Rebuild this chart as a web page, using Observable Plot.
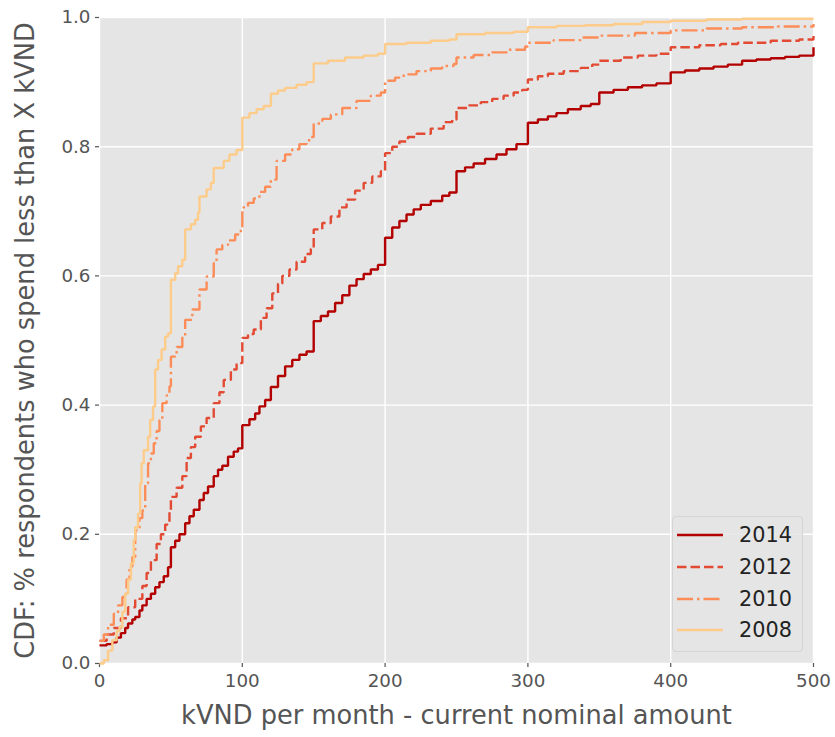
<!DOCTYPE html>
<html>
<head>
<meta charset="utf-8">
<script src="https://cdn.jsdelivr.net/npm/d3@7"></script>
<script src="https://cdn.jsdelivr.net/npm/@observablehq/plot@0.6"></script>
<style>
  html, body { margin: 0; padding: 0; background: #fff; }
  #wrap { position: relative; width: 835px; height: 737px; font-family: "DejaVu Sans", sans-serif; }
  #legend { position: absolute; left: 672px; top: 516px; width: 131px; height: 136px;
    background: rgba(229,229,229,0.85); border: 1px solid #d4d4d4; border-radius: 4px; box-sizing: border-box; }
  .item { position: absolute; left: 4px; height: 20px; display: flex; align-items: center; }
  .item span { margin-left: 16px; font-size: 20.8px; color: #222; }
</style>
</head>
<body>
<div id="wrap"></div>
<script>
// ---- data ----
const years = ["2014", "2012", "2010", "2008"];
const colors = ["#b30000", "#e34a33", "#fc8d59", "#fdcc8a"];
const dashes = ["none", "9.5,4", "16,4,2.5,4", "none"];
const xTicks = [0, 100, 200, 300, 400, 500];
const yTicks = [0, 0.2, 0.4, 0.6, 0.8, 1.0];
const xLabel = "kVND per month - current nominal amount";
const yLabel = "CDF: % respondents who spend less than X kVND";

const cdf2014 = [[0,0.028],[5,0.03],[9,0.033],[12,0.04],[15,0.047],[18,0.055],[20,0.062],[23,0.068],[25,0.072],[28,0.082],[30,0.09],[33,0.1],[36,0.108],[39,0.118],[42,0.126],[45,0.135],[48,0.149],[50,0.18],[53,0.19],[56,0.2],[60,0.217],[63,0.228],[66,0.238],[70,0.253],[73,0.264],[76,0.274],[80,0.29],[83,0.3],[86,0.306],[90,0.32],[94,0.328],[97,0.333],[100,0.369],[105,0.378],[109,0.387],[112,0.398],[116,0.408],[120,0.428],[125,0.445],[130,0.46],[135,0.47],[140,0.478],[145,0.483],[150,0.53],[155,0.538],[160,0.545],[165,0.558],[170,0.57],[175,0.585],[180,0.595],[185,0.603],[190,0.61],[195,0.617],[200,0.659],[205,0.675],[210,0.685],[215,0.695],[220,0.703],[225,0.71],[232,0.716],[240,0.724],[245,0.729],[250,0.762],[256,0.768],[262,0.774],[270,0.781],[278,0.788],[285,0.796],[292,0.804],[300,0.837],[307,0.842],[314,0.847],[320,0.852],[328,0.858],[337,0.863],[344,0.866],[350,0.884],[360,0.888],[370,0.892],[380,0.895],[390,0.898],[400,0.915],[410,0.918],[420,0.921],[430,0.924],[440,0.927],[450,0.933],[460,0.935],[470,0.937],[480,0.939],[490,0.941],[500,0.954]];

const cdf2012 = [[0,0.035],[5,0.045],[10,0.055],[15,0.07],[20,0.087],[25,0.1],[30,0.12],[33,0.14],[36,0.16],[40,0.185],[43,0.2],[46,0.215],[49,0.237],[50,0.258],[54,0.272],[58,0.29],[61,0.318],[64,0.335],[67,0.351],[71,0.367],[75,0.38],[80,0.403],[84,0.42],[87,0.439],[92,0.455],[96,0.465],[100,0.504],[104,0.51],[108,0.517],[113,0.535],[117,0.55],[121,0.573],[125,0.588],[128,0.6],[133,0.61],[138,0.622],[144,0.634],[148,0.642],[150,0.672],[156,0.682],[162,0.692],[168,0.706],[173,0.718],[179,0.732],[185,0.744],[191,0.754],[197,0.762],[200,0.79],[205,0.8],[210,0.808],[216,0.815],[222,0.82],[232,0.828],[241,0.838],[247,0.842],[250,0.86],[258,0.864],[267,0.869],[275,0.874],[283,0.879],[290,0.884],[296,0.888],[300,0.904],[307,0.909],[314,0.913],[325,0.917],[337,0.922],[345,0.927],[350,0.933],[365,0.938],[377,0.941],[390,0.944],[400,0.954],[420,0.957],[435,0.959],[447,0.961],[470,0.964],[490,0.966],[500,0.977]];

const cdf2010 = [[0,0.035],[3,0.045],[6,0.06],[10,0.077],[13,0.09],[16,0.103],[19,0.13],[21,0.15],[23,0.165],[25,0.206],[28,0.225],[30,0.237],[32,0.279],[34,0.31],[36,0.325],[38,0.341],[40,0.36],[42,0.377],[44,0.403],[47,0.415],[49,0.429],[50,0.475],[54,0.49],[58,0.506],[60,0.532],[65,0.548],[70,0.579],[75,0.599],[80,0.62],[82,0.641],[86,0.648],[90,0.655],[95,0.664],[99,0.672],[100,0.706],[104,0.713],[108,0.72],[112,0.73],[116,0.738],[120,0.749],[124,0.778],[130,0.788],[135,0.796],[140,0.804],[145,0.81],[148,0.815],[150,0.836],[156,0.843],[162,0.85],[170,0.86],[180,0.871],[190,0.879],[197,0.884],[200,0.902],[207,0.907],[213,0.912],[222,0.917],[232,0.921],[240,0.925],[248,0.928],[250,0.938],[262,0.942],[274,0.946],[286,0.95],[298,0.955],[300,0.961],[318,0.965],[337,0.969],[350,0.972],[375,0.976],[400,0.98],[425,0.983],[450,0.985],[475,0.986],[500,0.99]];

const cdf2008 = [[0,0],[3,0.005],[6,0.02],[9,0.036],[12,0.05],[14,0.056],[16,0.08],[18,0.108],[20,0.13],[22,0.155],[24,0.191],[25,0.211],[27,0.232],[28.5,0.279],[29.5,0.31],[31,0.33],[34,0.351],[35.5,0.377],[37.5,0.398],[39,0.455],[41,0.47],[43.5,0.486],[46,0.506],[48,0.511],[50,0.594],[53,0.604],[55,0.615],[58,0.625],[60,0.672],[64,0.68],[67,0.687],[69,0.698],[70,0.723],[75,0.734],[78,0.744],[80,0.767],[87,0.778],[91,0.788],[96,0.795],[100,0.845],[105,0.852],[110,0.858],[115,0.863],[120,0.882],[125,0.887],[130,0.891],[138,0.896],[145,0.9],[150,0.929],[160,0.933],[172,0.938],[185,0.941],[195,0.944],[200,0.959],[215,0.961],[232,0.964],[245,0.966],[250,0.974],[270,0.976],[290,0.978],[300,0.985],[320,0.987],[340,0.988],[360,0.99],[380,0.993],[400,0.995],[425,0.997],[450,0.998],[500,0.998]];

const series = [cdf2014, cdf2012, cdf2010, cdf2008];

const lineMarks = series.map((s, i) => Plot.line(s, {
  x: d => d[0], y: d => d[1], curve: "step-after",
  stroke: colors[i], strokeWidth: 2.4, strokeDasharray: dashes[i],
  strokeLinejoin: "miter", strokeLinecap: "butt"
}));

const chart = Plot.plot({
  width: 835, height: 737,
  marginLeft: 99, marginRight: 22, marginTop: 17, marginBottom: 74,
  style: { fontFamily: "DejaVu Sans, sans-serif", background: "#fff" },
  x: { domain: [0, 500] },
  y: { domain: [0, 1] },
  marks: [
    Plot.frame({ fill: "#e5e5e5" }),
    Plot.gridX(xTicks, { stroke: "#fff", strokeOpacity: 1, strokeWidth: 1.4 }),
    Plot.gridY(yTicks, { stroke: "#fff", strokeOpacity: 1, strokeWidth: 1.4 }),
    Plot.axisX(xTicks, { tickSize: 4, tickPadding: 6, fontSize: 18.3, color: "#555", label: null, strokeWidth: 1.2 }),
    Plot.axisY(yTicks, { tickSize: 4, tickPadding: 5, fontSize: 18.3, color: "#555", label: null, tickFormat: ".1f", strokeWidth: 1.2 }),
    ...lineMarks,
    Plot.text([xLabel], { text: d => d, frameAnchor: "bottom", textAnchor: "middle", dy: 60, fontSize: 25.7, fill: "#555" }),
    Plot.text([yLabel], { text: d => d, frameAnchor: "left", textAnchor: "middle", rotate: -90, dx: -74, fontSize: 25.7, fill: "#555" })
  ]
});
const wrap = document.getElementById("wrap");
wrap.appendChild(chart);

// legend
const leg = document.createElement("div");
leg.id = "legend";
years.forEach((y, i) => {
  const it = document.createElement("div");
  it.className = "item";
  it.style.top = (8 + i * 31.8) + "px";
  it.innerHTML = `<svg width="46" height="20"><line x1="0" x2="46" y1="10" y2="10" stroke="${colors[i]}" stroke-width="2.4" stroke-dasharray="${dashes[i]}"/></svg><span>${y}</span>`;
  leg.appendChild(it);
});
wrap.appendChild(leg);
</script>
</body>
</html>
